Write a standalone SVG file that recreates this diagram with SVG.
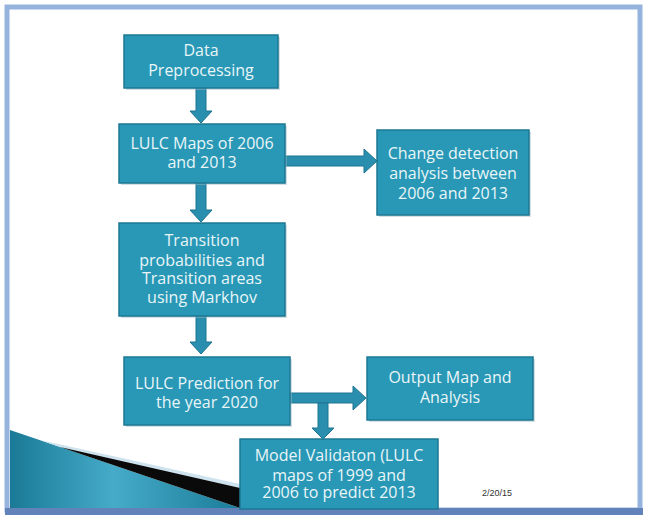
<svg xmlns="http://www.w3.org/2000/svg" width="647" height="516" viewBox="0 0 647 516">
<defs>
<style>
.box{fill:#2898b6;stroke:#1c7894;stroke-width:1.5}
.sh{fill:#9fb7c2;opacity:0.45}
.t{font-family:"Open Sans","Noto Sans",sans-serif;font-size:16px;fill:#eaf5f8;text-anchor:middle}
.arr{fill:#2a8fae;stroke:#1c7492;stroke-width:1}
</style>
<linearGradient id="wedge" x1="0" y1="0" x2="1" y2="0">
<stop offset="0" stop-color="#1a7a96"/>
<stop offset="0.45" stop-color="#45abc9"/>
<stop offset="1" stop-color="#1b7c98"/>
</linearGradient>
</defs>
<rect x="0" y="0" width="647" height="516" fill="#ffffff"/>
<rect x="7" y="7" width="633" height="503" fill="#ffffff" stroke="#95b3dd" stroke-width="5"/>
<rect x="5" y="508" width="638" height="7" fill="#6282ba"/>
<g id="wedge-deco">
<polygon points="10,430 240,508 10,508" fill="url(#wedge)"/>
<polygon points="40,440 240,484 240,490 60,447" fill="#cfe3ee"/>
<polygon points="60,447 240,488 240,508" fill="#0a0a0a"/>
</g>
<g id="connectors">
<polygon class="arr" points="196,88 206,88 206,111 212,111 201,123 190,111 196,111"/>
<polygon class="arr" points="285,156 364,156 364,149 377,161 364,173 364,166 285,166"/>
<polygon class="arr" points="196,183 206,183 206,210 212,210 201,222 190,210 196,210"/>
<polygon class="arr" points="196,316 206,316 206,342 212,342 201,354 190,342 196,342"/>
<polygon class="arr" points="290,393 353,393 353,386 366,398 353,410 353,403 290,403"/>
<polygon class="arr" points="318,403 328,403 328,428 334,428 323,439 312,428 318,428"/>
</g>
<g id="n1">
<rect class="sh" x="126" y="37" width="154" height="53"/>
<rect class="box" x="124" y="35" width="154" height="53"/>
<text class="t" x="201" y="56">Data</text>
<text class="t" x="201" y="76">Preprocessing</text>
</g>
<g id="n2">
<rect class="sh" x="121" y="126" width="166" height="59"/>
<rect class="box" x="119" y="124" width="166" height="59"/>
<text class="t" x="202" y="149">LULC Maps of 2006</text>
<text class="t" x="202" y="168">and 2013</text>
</g>
<g id="n3">
<rect class="sh" x="379" y="132" width="152" height="85"/>
<rect class="box" x="377" y="130" width="152" height="85"/>
<text class="t" x="453" y="159">Change detection</text>
<text class="t" x="453" y="179">analysis between</text>
<text class="t" x="453" y="199">2006 and 2013</text>
</g>
<g id="n4">
<rect class="sh" x="121" y="225" width="166" height="93"/>
<rect class="box" x="119" y="223" width="166" height="93"/>
<text class="t" x="202" y="246">Transition</text>
<text class="t" x="202" y="266">probabilities and</text>
<text class="t" x="202" y="284">Transition areas</text>
<text class="t" x="202" y="303">using Markhov</text>
</g>
<g id="n5">
<rect class="sh" x="126" y="359" width="166" height="68"/>
<rect class="box" x="124" y="357" width="166" height="68"/>
<text class="t" x="207" y="389">LULC Prediction for</text>
<text class="t" x="207" y="408">the year 2020</text>
</g>
<g id="n6">
<rect class="sh" x="369" y="359" width="166" height="63"/>
<rect class="box" x="367" y="357" width="166" height="63"/>
<text class="t" x="450" y="383">Output Map and</text>
<text class="t" x="450" y="403">Analysis</text>
</g>
<g id="n7">
<rect class="box" x="240" y="439" width="198" height="70"/>
<text class="t" x="339" y="461">Model Validaton (LULC</text>
<text class="t" x="339" y="481">maps of 1999 and</text>
<text class="t" x="339" y="498">2006 to predict 2013</text>
</g>
<text x="497" y="496" font-family="Liberation Sans, Arial, sans-serif" font-size="9" fill="#333333" text-anchor="middle">2/20/15</text>
</svg>
